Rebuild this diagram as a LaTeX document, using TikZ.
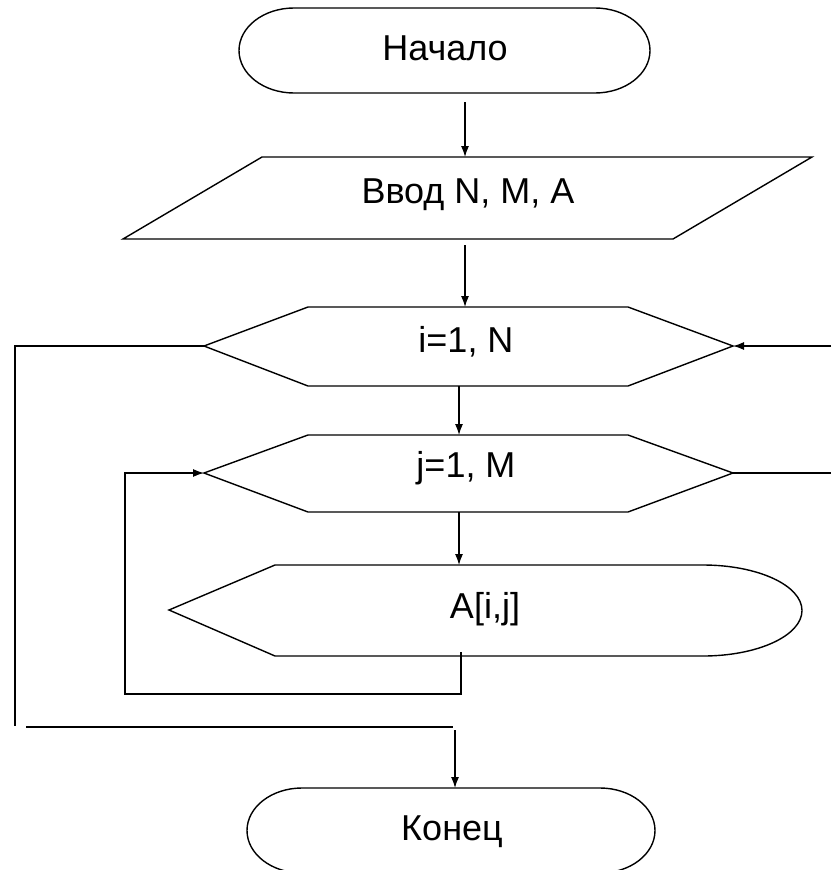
\documentclass[tikz,border=0pt]{standalone}
\usepackage{fontspec}
\setmainfont{Liberation Sans}
\usetikzlibrary{arrows.meta}
\begin{document}
\begin{tikzpicture}[x=1pt,y=-1pt,
  lbl/.style={anchor=base, inner sep=0pt, font=\fontsize{36}{40}\selectfont},
  shp/.style={draw=black, line width=1.4pt, line join=miter},
  flow/.style={draw=black, line width=1.2pt},
  arr/.style={flow, -{Latex[length=11pt,width=8pt]}}]
\clip (0,0) rectangle (831,870);
% shapes
\draw[shp] (294,8) -- (595,8) arc[start angle=90,end angle=-90,x radius=55pt,y radius=42.5pt]
  -- (294,93) arc[start angle=270,end angle=90,x radius=55pt,y radius=42.5pt] -- cycle;
\draw[shp] (262,157) -- (812,157) -- (673,239) -- (123,239) -- cycle;
\draw[shp] (204,346) -- (308,307) -- (628,307) -- (733,346) -- (628,386) -- (308,386) -- cycle;
\draw[shp] (204,473) -- (308,435) -- (628,435) -- (733,473) -- (628,512) -- (308,512) -- cycle;
\draw[shp] (169,610) -- (275,565) -- (703,565) arc[start angle=90,end angle=-90,x radius=99pt,y radius=45.5pt]
  -- (275,656) -- cycle;
\draw[shp] (302,788) -- (600,788) arc[start angle=90,end angle=-90,x radius=55pt,y radius=42.5pt]
  -- (302,873) arc[start angle=270,end angle=90,x radius=55pt,y radius=42.5pt] -- cycle;
% texts
\node[lbl] (start) at (445,60) {Начало};
\node[lbl] (input) at (468,203) {Ввод N, M, A};
\node[lbl] (loopi) at (466,352) {i=1, N};
\node[lbl] (loopj) at (466,477) {j=1, M};
\node[lbl] (out) at (485,618) {A[i,j]};
\node[lbl] (stop) at (452,840) {Конец};
% anchor points
\coordinate (s-b) at (465,102);
\coordinate (in-t) at (465,157);
\coordinate (in-b) at (465,245);
\coordinate (hi-t) at (465,307);
\coordinate (hi-l) at (204,346);
\coordinate (hi-r) at (733,346);
\coordinate (hi-b) at (459,386);
\coordinate (hj-t) at (459,435);
\coordinate (hj-l) at (204,473);
\coordinate (hj-r) at (733,473);
\coordinate (hj-b) at (459,512);
\coordinate (o-t) at (459,565);
\coordinate (o-b) at (461,652);
\coordinate (jc) at (125,694);
\coordinate (oc) at (15,726);
\coordinate (ol1) at (26,727);
\coordinate (ol2) at (453,727);
\coordinate (k-in) at (455,730);
\coordinate (k-t) at (455,788);
\coordinate (re1) at (831,346);
\coordinate (re2) at (831,473);
% connectors
\draw[arr] (s-b) -- (in-t);
\draw[arr] (in-b) -- (hi-t);
\draw[arr] (hi-b) -- (hj-t);
\draw[arr] (hj-b) -- (o-t);
\draw[arr] (o-b) |- (jc) |- (hj-l);
\draw[flow] (hi-l) -| (oc);
\draw[flow] (ol1) -- (ol2);
\draw[arr] (k-in) -- (k-t);
\draw[arr] (re1) -- (hi-r);
\draw[flow] (hj-r) -- (re2);
\end{tikzpicture}
\end{document}
